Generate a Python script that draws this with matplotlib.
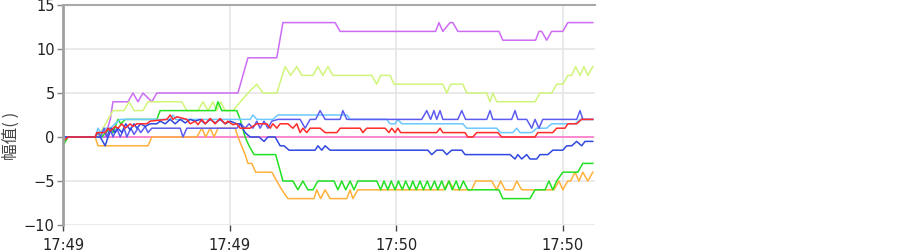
import datetime
import numpy as np
import matplotlib
matplotlib.use("Agg")
import matplotlib.pyplot as plt
import matplotlib.dates as mdates

plt.rcParams['font.family'] = ['Noto Sans CJK SC', 'DejaVu Sans']

# seconds after 17:49:00, value
magenta_t = [0, 7.6, 8.5, 9.0, 11.7, 12.6, 13.5, 14.4, 16.0, 16.9, 31.5, 33.3, 38.5, 39.6, 49.0, 49.9,
             67.1, 67.7, 68.4, 69.7, 70.2, 71.1, 78.5, 79.2, 85.1, 85.7, 86.2, 87.1, 88.0, 90.0, 90.9, 95.4]
magenta_v = [0, 0, 2, 4, 4, 5, 4, 5, 4, 5, 5, 9, 9, 13, 13, 12,
             12, 13, 12, 13, 13, 12, 12, 11, 11, 12, 12, 11, 12, 12, 13, 13]

lime_t = [0, 6.3, 7.2, 8.1, 9.0, 11.0, 11.9, 12.8, 14.4, 15.3, 21.4, 22.3, 24.3, 25.2, 26.1, 27.0, 27.7,
          28.4, 29.2, 30.6, 33.3, 34.9, 36.0, 38.5, 40.0, 41.0, 42.1, 43.0, 45.0, 45.9, 46.8, 47.7, 48.6,
          55.6, 56.5, 57.2, 58.9, 59.6, 68.4, 69.1, 69.8, 72.0, 72.7, 76.3, 76.9, 77.4, 78.1, 85.0, 85.9,
          88.0, 88.9, 90.0, 90.9, 91.6, 92.3, 93.1, 93.8, 94.5, 95.4]
lime_v = [0, 0, 1, 2, 3, 3, 4, 3, 3, 4, 4, 3, 3, 4, 3, 4, 3,
          4, 3, 3, 5, 6, 5, 5, 8, 7, 8, 7, 7, 8, 7, 8, 7,
          7, 6, 7, 7, 6, 6, 5, 6, 6, 5, 5, 4, 5, 4, 4, 5,
          5, 6, 6, 7, 7, 8, 7, 8, 7, 8]

green_t = [0, 0.9, 5.8, 6.3, 7.0, 7.7, 8.5, 9.0, 9.9, 10.4, 11.2, 16.9, 17.5, 27.4, 27.9, 28.6, 31.3,
           31.9, 32.8, 33.5, 34.4, 38.3, 39.6, 41.4, 42.3, 43.2, 44.1, 45.0, 45.9, 48.8, 49.5, 50.2,
           50.9, 51.7, 52.4, 53.1, 56.5, 57.2, 57.8, 58.5, 59.1, 59.8, 60.4, 61.1, 61.7, 62.4, 63.0,
           63.6, 64.3, 64.9, 65.6, 66.2, 66.9, 67.5, 68.2, 68.8, 69.5, 70.1, 70.8, 71.4, 72.1, 72.9,
           78.5, 79.2, 84.1, 85.0, 86.8, 87.5, 88.2, 88.9, 90.0, 92.7, 93.6, 95.4]
green_v = [-1, 0, 0, 0.5, 0, 0.5, 1, 0.5, 2, 1.5, 2, 2, 3, 3, 4, 3, 3,
           2, 0, -1, -2, -2, -5, -5, -6, -5, -6, -6, -5, -5, -6, -5,
           -6, -5, -6, -5, -5, -6, -5, -6, -5, -6, -5, -6, -5, -6, -5,
           -6, -5, -6, -5, -6, -5, -6, -5, -6, -5, -6, -5, -6, -5, -6,
           -6, -7, -7, -6, -6, -5, -6, -5, -4, -4, -3, -3]

orange_t = [0, 5.8, 6.3, 15.3, 16.0, 24.1, 25.0, 25.7, 26.5, 27.2, 27.9, 31.0, 31.5, 32.8, 33.3, 34.0,
            34.7, 37.6, 39.4, 40.5, 45.2, 45.7, 46.4, 47.2, 48.1, 51.1, 51.7, 52.2, 53.1, 68.6, 69.5,
            70.4, 73.6, 74.3, 77.2, 78.1, 78.8, 79.6, 81.0, 81.7, 82.6, 88.4, 89.3, 90.0, 90.9, 91.4,
            92.2, 92.9, 93.6, 94.5, 95.4]
orange_v = [0, 0, -1, -1, 0, 0, 1, 0, 1, 0, 1, 1, 0, -2, -3, -3,
            -4, -4, -6, -7, -7, -6, -7, -6, -7, -7, -6, -7, -6, -6, -5,
            -6, -6, -5, -5, -6, -5, -6, -6, -5, -6, -6, -5, -6, -5, -5,
            -4, -5, -4, -5, -4]

lightblue_t = [0, 5.8, 6.3, 6.8, 7.6, 8.5, 9.4, 10.3, 19.3, 19.8, 20.3, 33.7, 34.2, 34.9, 37.8, 38.7,
               51.1, 51.7, 58.3, 58.9, 59.8, 60.3, 61.0, 72.0, 72.7, 78.1, 78.8, 81.0, 81.7, 82.3, 84.4,
               85.3, 87.1, 88.0, 92.2, 93.1, 95.4]
lightblue_v = [0, 0, 1, 0.5, 1, 1, 1.5, 2, 2, 2.5, 2, 2, 2.5, 2, 2, 2.5,
               2.5, 2, 2, 1.5, 1.5, 2, 1.5, 1.5, 1, 1, 0.5, 0.5, 1, 0.5, 0.5,
               1, 1, 1.5, 1.5, 2, 2]

red_t = [0, 0.9, 5.8, 6.1, 7.6, 8.1, 8.5, 9.4, 9.9, 10.6, 11.2, 12.1, 12.6, 13.3, 15.1, 15.7, 18.7,
         19.3, 19.8, 20.5, 22.3, 22.9, 23.8, 24.3, 25.0, 25.6, 26.5, 27.4, 28.3, 29.2, 29.7, 30.6, 31.3,
         31.9, 33.7, 34.9, 36.7, 37.3, 37.8, 38.5, 39.1, 40.5, 41.4, 42.1, 42.7, 43.2, 43.9, 44.5,
         46.3, 47.2, 49.3, 49.9, 53.5, 54.0, 54.7, 58.0, 58.7, 59.2, 59.8, 60.3, 60.8, 67.3, 67.9,
         68.4, 72.4, 72.9, 73.8, 74.5, 78.3, 79.0, 85.0, 85.5, 88.2, 88.9, 90.4, 90.9, 92.5, 93.4, 95.4]
red_v = [-0.5, 0, 0, 0.5, 0.5, 1, 0.7, 1.2, 1, 1.5, 1, 1.5, 1.2, 1.5, 1.5, 1.8, 2,
         2.5, 2, 2.3, 2, 1.5, 1.8, 1.4, 2, 1.5, 2.1, 1.5, 2.1, 1.5, 1.8, 1.4, 1.5,
         1, 1, 1.5, 1.5, 1, 1.5, 1, 1.5, 1.5, 1, 1.5, 0.5, 1, 0.5, 1,
         1, 0.5, 0.5, 1, 1, 0.5, 1, 1, 0.5, 1, 0.5, 1, 0.5, 0.5, 1,
         0.5, 0.5, 0, 0, 0.5, 0.5, 0, 0, 0.5, 0.5, 1, 1, 1.5, 1.5, 2, 2]

blue_t = [0, 5.8, 6.3, 6.8, 7.4, 7.9, 8.5, 9.0, 9.7, 10.3, 11.0, 11.5, 12.2, 12.8, 13.5, 14.0, 14.8,
          15.3, 16.0, 21.1, 21.6, 22.3, 31.3, 32.0, 32.8, 33.5, 34.2, 34.9, 35.5, 36.2, 36.9, 37.6,
          38.7, 42.7, 43.6, 44.5, 45.5, 46.3, 47.2, 49.9, 50.4, 51.1, 64.6, 65.5, 66.2, 66.8, 67.3,
          67.9, 68.4, 71.1, 71.8, 72.5, 76.3, 76.9, 77.4, 80.8, 81.4, 81.9, 83.5, 84.4, 85.0, 85.7,
          86.4, 92.5, 93.1, 93.6, 95.4]
blue_v = [0, 0, 0.5, 0, 1, 0, 1, 0, 1, 0, 1, 0, 1, 0.3, 1, 0.5, 1.2,
          0.5, 1, 1, 0, 1, 1, 1.5, 1, 1.5, 1, 1.8, 1, 1.8, 1, 1.8,
          2, 2, 1, 2, 2, 3, 2, 2, 3, 2, 2, 3, 2, 3, 2,
          3, 2, 2, 3, 2, 2, 3, 2, 2, 3, 2, 2, 1, 2, 1,
          2, 2, 3, 2, 2]

darkblue_t = [0, 6.7, 7.6, 8.1, 8.8, 9.4, 9.9, 10.6, 11.3, 12.1, 12.8, 13.3, 14.0, 14.8, 15.7, 16.9,
              17.5, 18.4, 19.3, 20.2, 21.1, 22.0, 22.9, 23.8, 24.7, 25.6, 26.5, 27.4, 28.3, 29.2, 30.1,
              31.3, 31.9, 32.8, 33.7, 35.3, 36.2, 36.9, 38.2, 39.1, 39.8, 40.7, 45.4, 45.9, 46.6, 47.2,
              48.1, 65.7, 66.4, 67.3, 68.4, 69.1, 70.0, 71.8, 72.4, 80.5, 81.4, 81.9, 82.6, 83.5, 84.1,
              85.3, 85.9, 87.3, 88.2, 90.0, 90.7, 91.6, 92.5, 93.4, 94.0, 95.4]
darkblue_v = [0, 0, -1, 0, 1, 0.5, 1, 0.5, 1.5, 0.8, 1.5, 1, 1.5, 1.2, 1.5, 1.5,
              1.8, 1.5, 2, 1.5, 2, 1.6, 2, 1.8, 2, 1.5, 2, 1.6, 2, 1.5, 1.8,
              1.5, 1.5, 0.5, 0, 0, -0.5, 0, 0, -1, -1, -1.5, -1.5, -1, -1.5, -1,
              -1.5, -1.5, -2, -1.5, -1.5, -2, -1.5, -1.5, -2, -2, -2.5, -2, -2.5, -2, -2.5,
              -2.5, -2, -2, -1.5, -1.5, -1, -1, -0.5, -1, -0.5, -0.5]

pink_t = [0, 95.4]
pink_v = [0, 0]

tick_seconds = [0, 30, 60, 90]

start = mdates.date2num(datetime.datetime(2024, 1, 1, 17, 49, 0))

def to_time(secs):
    return start + np.asarray(secs, dtype=float) / 86400.0

fig = plt.figure(figsize=(9.03, 2.52), dpi=100)
ax = fig.add_axes([63 / 903, 1 - 225 / 252, 532 / 903, 220 / 252])

series = [
    (pink_t, pink_v, '#ff6ec7'),
    (magenta_t, magenta_v, '#cc6cf5'),
    (lime_t, lime_v, '#d0f57a'),
    (orange_t, orange_v, '#ffb13b'),
    (green_t, green_v, '#22e022'),
    (lightblue_t, lightblue_v, '#6cc8ff'),
    (blue_t, blue_v, '#5c5cf0'),
    (darkblue_t, darkblue_v, '#3048e0'),
    (red_t, red_v, '#ff2a2a'),
]
for t, v, c in series:
    ax.plot(to_time(t), v, color=c, lw=1.1)

ax.set_ylim(-10, 15)
ax.set_xlim(to_time(0), to_time(95.8))
ax.set_yticks([-10, -5, 0, 5, 10, 15])
ax.set_xticks(to_time(tick_seconds))
ax.xaxis.set_major_formatter(mdates.DateFormatter('%H:%M'))

ax.grid(True, color='#e6e6e6', lw=1.2)
ax.set_axisbelow(True)
for s in ['right', 'bottom']:
    ax.spines[s].set_visible(False)
ax.spines['left'].set_color('#a0a0a0')
ax.spines['left'].set_linewidth(2)
ax.spines['top'].set_color('#a8a8a8')
ax.spines['top'].set_linewidth(1.5)

ax.tick_params(axis='y', length=4, width=1, color='#888888', labelsize=10.5, labelcolor='#222222', pad=2)
ax.tick_params(axis='x', length=4, width=1, color='#444444', labelsize=10.5, labelcolor='#222222', pad=5)
for lab in ax.get_xticklabels() + ax.get_yticklabels():
    lab.set_family('DejaVu Sans')

ax.set_ylabel('幅值( )', fontsize=12, color='#444444')
ax.yaxis.set_label_coords(-0.082, 0.405)

fig.savefig('out.png', dpi=100)
